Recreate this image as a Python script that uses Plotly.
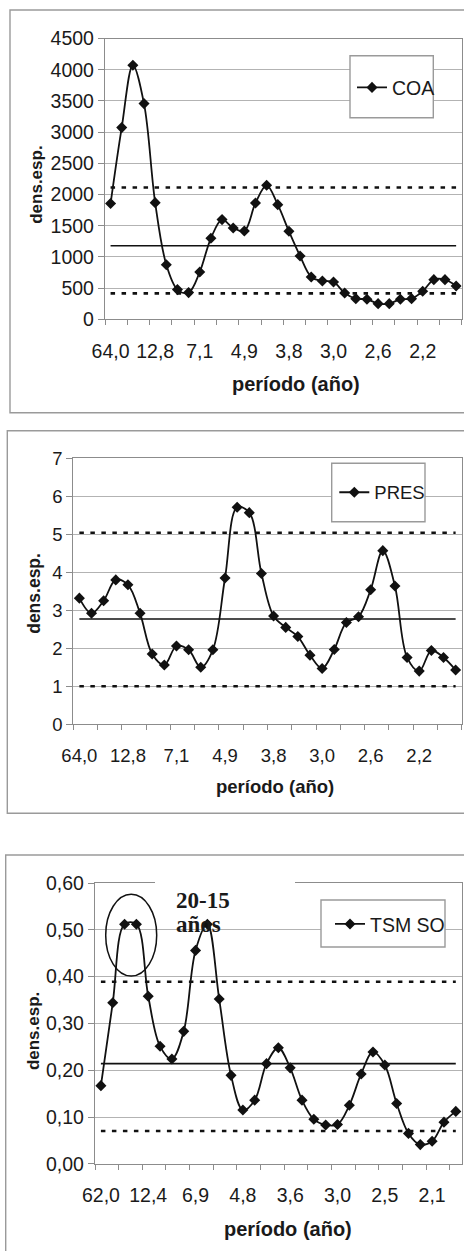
import plotly.graph_objects as go

W, H = 464, 1251

# ---------------- data ----------------
harm_coa = list(range(1, 33))
coa = [1855, 3073, 4072, 3458, 1870, 876, 476, 428, 759, 1299, 1598, 1464, 1416, 1865,
       2148, 1838, 1411, 1015, 679, 615, 599, 422, 331, 321, 251, 251, 321, 331, 449,
       636, 636, 534]
coa_mean, coa_lo, coa_hi = 1178, 415, 2113
coa_xtick_vals = [1, 5, 9, 13, 17, 21, 25, 29]
coa_xtick_text = ["64,0", "12,8", "7,1", "4,9", "3,8", "3,0", "2,6", "2,2"]
coa_ytick_vals = [0, 500, 1000, 1500, 2000, 2500, 3000, 3500, 4000, 4500]
coa_ytick_text = ["0", "500", "1000", "1500", "2000", "2500", "3000", "3500", "4000", "4500"]

harm_pres = list(range(1, 33))
pres = [3.32, 2.92, 3.25, 3.80, 3.67, 2.92, 1.85, 1.56, 2.06, 1.96, 1.50, 1.96, 3.85,
        5.71, 5.57, 3.97, 2.85, 2.55, 2.31, 1.82, 1.47, 1.97, 2.68, 2.83, 3.54, 4.57,
        3.64, 1.76, 1.40, 1.94, 1.76, 1.43]
pres_mean, pres_lo, pres_hi = 2.77, 1.0, 5.04
pres_xtick_vals = [1, 5, 9, 13, 17, 21, 25, 29]
pres_xtick_text = ["64,0", "12,8", "7,1", "4,9", "3,8", "3,0", "2,6", "2,2"]
pres_ytick_vals = [0, 1, 2, 3, 4, 5, 6, 7]
pres_ytick_text = ["0", "1", "2", "3", "4", "5", "6", "7"]

harm_tsm = list(range(1, 32))
tsm = [0.167, 0.344, 0.512, 0.512, 0.358, 0.251, 0.224, 0.283, 0.456, 0.512, 0.352,
       0.189, 0.115, 0.136, 0.214, 0.248, 0.205, 0.136, 0.095, 0.083, 0.084, 0.125,
       0.192, 0.239, 0.211, 0.129, 0.065, 0.041, 0.048, 0.089, 0.112]
tsm_mean, tsm_lo, tsm_hi = 0.214, 0.070, 0.389
tsm_xtick_vals = [1, 5, 9, 13, 17, 21, 25, 29]
tsm_xtick_text = ["62,0", "12,4", "6,9", "4,8", "3,6", "3,0", "2,5", "2,1"]
tsm_ytick_vals = [0, 0.1, 0.2, 0.3, 0.4, 0.5, 0.6]
tsm_ytick_text = ["0,00", "0,10", "0,20", "0,30", "0,40", "0,50", "0,60"]

# ---------------- helpers ----------------
def px(x):
    return x / W

def py(y):
    return 1 - y / H

FONT = "Liberation Sans, Arial, sans-serif"
TXT = "#1a1a1a"
GRID = "#b3b3b3"
AXC = "#8c8c8c"
BLACK = "#111111"

fig = go.Figure()

panels = [
    dict(name="COA", k=harm_coa, v=coa, mean=coa_mean, lo=coa_lo, hi=coa_hi,
         xtv=coa_xtick_vals, xtt=coa_xtick_text, ytv=coa_ytick_vals, ytt=coa_ytick_text,
         xr=[0.5, 32.5], yr=[0, 4500], left=105, right=461.7, top=38.6, bottom=319.3,
         fs=19.5, legend="legend"),
    dict(name="PRES", k=harm_pres, v=pres, mean=pres_mean, lo=pres_lo, hi=pres_hi,
         xtv=pres_xtick_vals, xtt=pres_xtick_text, ytv=pres_ytick_vals, ytt=pres_ytick_text,
         xr=[0.5, 32.5], yr=[0, 7], left=73.3, right=461.7, top=458.3, bottom=724.3,
         fs=18.5, legend="legend2"),
    dict(name="TSM SO", k=harm_tsm, v=tsm, mean=tsm_mean, lo=tsm_lo, hi=tsm_hi,
         xtv=tsm_xtick_vals, xtt=tsm_xtick_text, ytv=tsm_ytick_vals, ytt=tsm_ytick_text,
         xr=[0.5, 31.5], yr=[0, 0.6], left=95, right=461.7, top=883, bottom=1163.8,
         fs=19.5, legend="legend3"),
]

layout_axes = {}
for i, p in enumerate(panels):
    n = "" if i == 0 else str(i + 1)
    xa, ya = "x" + n, "y" + n
    first, last = p["k"][0], p["k"][-1]
    # reference lines
    for val, dash, wd in [(p["hi"], "4.5px,6.5px", 2.6), (p["lo"], "4.5px,6.5px", 2.6),
                          (p["mean"], None, 1.6)]:
        fig.add_trace(go.Scatter(
            x=[first, last], y=[val, val], mode="lines", xaxis=xa, yaxis=ya,
            line=dict(color=BLACK, width=wd, dash=dash), showlegend=False,
            hoverinfo="skip"))
    # data series
    fig.add_trace(go.Scatter(
        x=p["k"], y=p["v"], mode="lines+markers", name=p["name"], xaxis=xa, yaxis=ya,
        line=dict(color=BLACK, width=1.8, shape="spline", smoothing=1.0),
        marker=dict(symbol="diamond", size=8.5, color=BLACK),
        legend=p["legend"], showlegend=True))

    layout_axes["xaxis" + n] = dict(
        domain=[px(p["left"]), px(p["right"])], range=p["xr"], anchor=ya,
        tickmode="array", tickvals=p["xtv"], ticktext=p["xtt"], ticks="",
        ticklabelstandoff=14,
        tickfont=dict(family=FONT, size=p["fs"], color=TXT),
        showgrid=False, zeroline=False, showline=True, mirror=True,
        linecolor=AXC, linewidth=1.3,
        minor=dict(tickmode="linear", tick0=0.5, dtick=2, ticks="outside",
                   ticklen=5, tickcolor=AXC, tickwidth=1.3, showgrid=False),
        fixedrange=True)
    layout_axes["yaxis" + n] = dict(
        domain=[py(p["bottom"]), py(p["top"])], range=p["yr"], anchor=xa,
        tickmode="array", tickvals=p["ytv"], ticktext=p["ytt"],
        ticks="outside", ticklen=6, tickcolor=AXC, tickwidth=1.3,
        tickfont=dict(family=FONT, size=p["fs"], color=TXT),
        showgrid=True, gridcolor=GRID, gridwidth=1.4, zeroline=False,
        showline=True, mirror=True, linecolor=AXC, linewidth=1.3,
        fixedrange=True)

shapes = []
# chart area borders
for (x0, y0, y1) in [(10, 10, 412.7), (7.3, 430.7, 813.3), (5.7, 855, 1270)]:
    shapes.append(dict(type="rect", xref="paper", yref="paper",
                       x0=px(x0), x1=px(490), y0=py(y1), y1=py(y0),
                       line=dict(color="#9a9a9a", width=1.4), fillcolor="rgba(0,0,0,0)",
                       layer="below"))
# legend boxes
for (x0, y0, x1, y1) in [(350, 55.7, 433.3, 117.7), (331.7, 463.3, 425, 521.7),
                         (321, 900, 445, 947)]:
    shapes.append(dict(type="rect", xref="paper", yref="paper",
                       x0=px(x0), x1=px(x1), y0=py(y1), y1=py(y0),
                       line=dict(color="#9a9a9a", width=1.4), fillcolor="white",
                       layer="above"))
# white text box over top gridline of the third panel
shapes.append(dict(type="rect", xref="paper", yref="paper",
                   x0=px(155), x1=px(295), y0=py(889), y1=py(877),
                   line=dict(width=0), fillcolor="white", layer="above"))
# ellipse around the 20-15 year peak
shapes.append(dict(type="circle", xref="paper", yref="paper",
                   x0=px(105.7), x1=px(156.7), y0=py(976), y1=py(894.3),
                   line=dict(color=BLACK, width=1.5), fillcolor="rgba(0,0,0,0)",
                   layer="above"))

annotations = []
# axis titles
for (cx, cy, fs) in [(295.7, 384, 20), (275, 786.7, 18.5), (288.3, 1229, 20)]:
    annotations.append(dict(text="<b>período (año)</b>", xref="paper", yref="paper",
                            x=px(cx), y=py(cy), xanchor="center", yanchor="middle",
                            showarrow=False, font=dict(family=FONT, size=fs, color=TXT)))
for (cx, cy, fs) in [(35.8, 185, 17), (34.5, 593.3, 17.5), (33.8, 1031.3, 17)]:
    annotations.append(dict(text="<b>dens.esp.</b>", xref="paper", yref="paper",
                            x=px(cx), y=py(cy), xanchor="center", yanchor="middle",
                            textangle=-90, showarrow=False,
                            font=dict(family=FONT, size=fs, color=TXT)))
# "20-15 años" label
SERIF = "Liberation Serif, Times New Roman, serif"
annotations.append(dict(text="<b>20-15</b>", xref="paper", yref="paper",
                        x=px(174), y=py(900), xanchor="left", yanchor="middle",
                        showarrow=False, font=dict(family=SERIF, size=23, color=TXT)))
annotations.append(dict(text="<b>años</b>", xref="paper", yref="paper",
                        x=px(174), y=py(924), xanchor="left", yanchor="middle",
                        showarrow=False, font=dict(family=SERIF, size=23, color=TXT)))

def legend_cfg(x, y, fs):
    return dict(x=px(x), y=py(y), xanchor="left", yanchor="middle",
                bgcolor="rgba(0,0,0,0)", borderwidth=0,
                font=dict(family=FONT, size=fs, color=TXT), itemclick=False,
                itemdoubleclick=False)

fig.update_layout(
    width=W, height=H, margin=dict(l=0, r=0, t=0, b=0, autoexpand=False),
    paper_bgcolor="white", plot_bgcolor="white",
    showlegend=True,
    legend=legend_cfg(352, 87.7, 19.5),
    legend2=legend_cfg(334.3, 492.7, 18.5),
    legend3=legend_cfg(330, 924.3, 19.5),
    shapes=shapes, annotations=annotations,
    **layout_axes)

fig.write_html("out.html", config={"displayModeBar": False},
               post_script="document.body.style.margin='0';"
                           "document.body.style.overflow='hidden';")
